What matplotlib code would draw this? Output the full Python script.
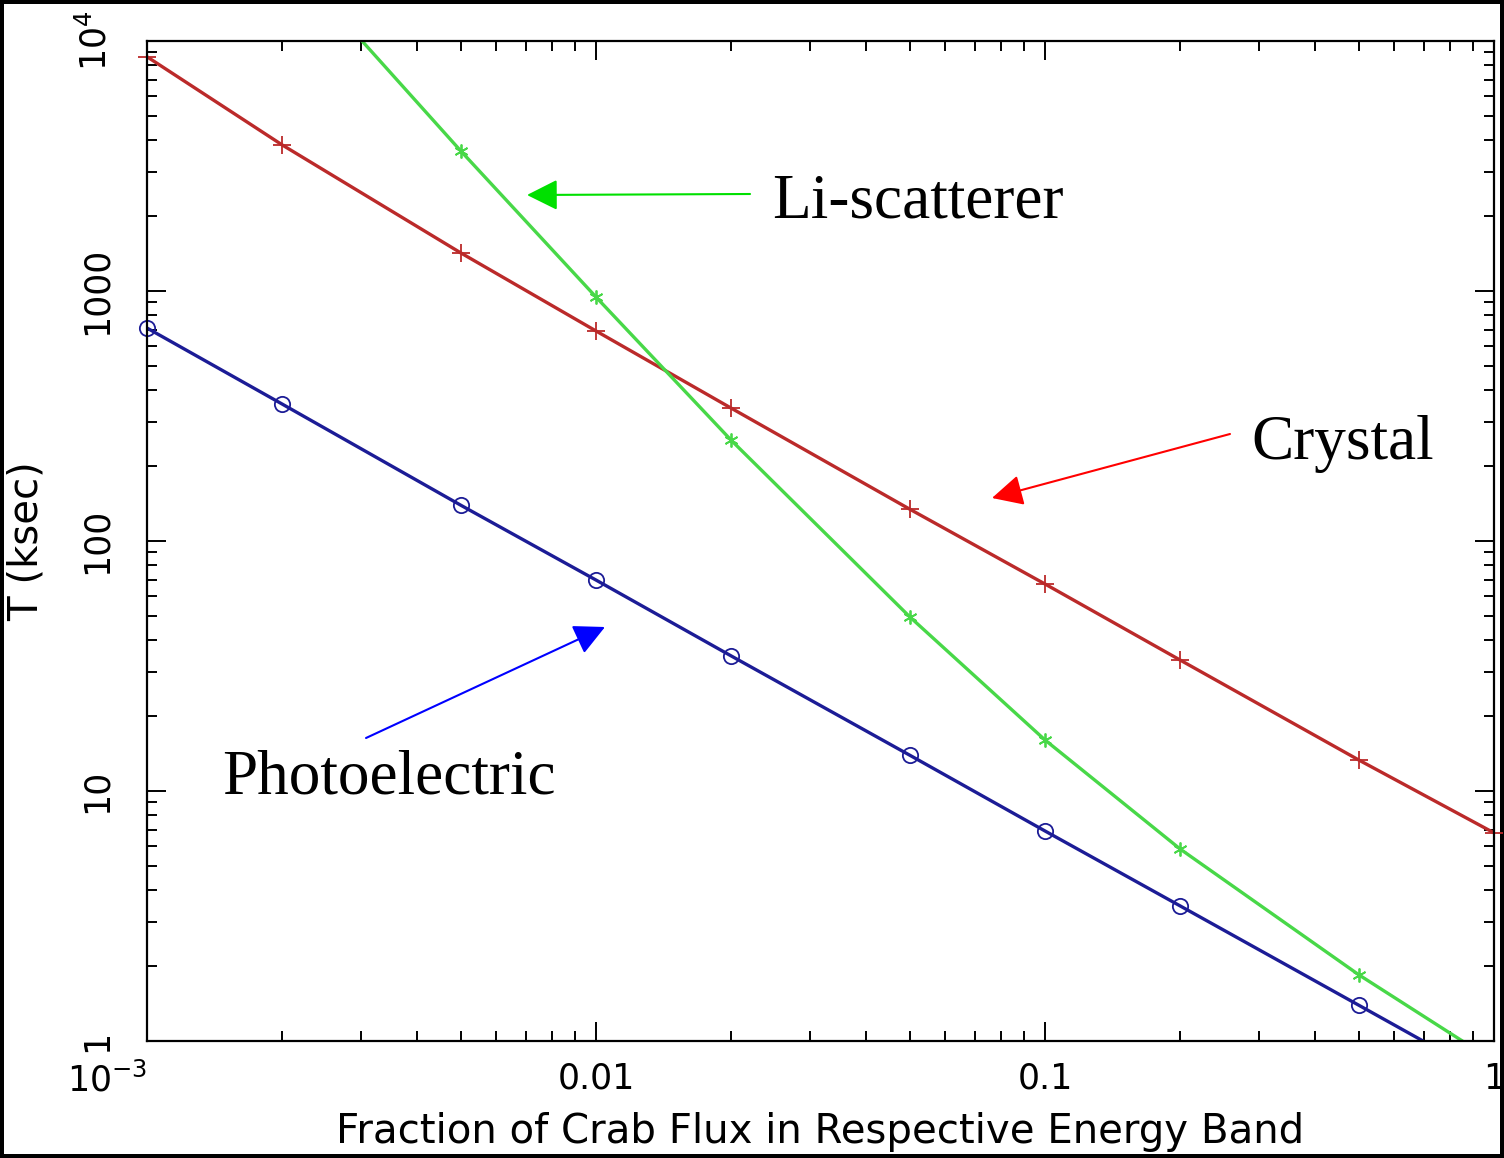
import numpy as np
import matplotlib
matplotlib.use('Agg')
import matplotlib.pyplot as plt
from matplotlib.ticker import LogLocator, FixedLocator, FixedFormatter, NullFormatter

# fraction of Crab flux, exposure time (ksec) per detector type
flux = [0.001, 0.002, 0.005, 0.01, 0.02, 0.05, 0.1, 0.2, 0.5, 1.0]
crystal = [8650, 3840, 1420, 692, 340, 134, 67.3, 33.4, 13.3, 6.8]
li_scatterer = [68000, 22700, 3630, 946, 253, 49.7, 16.0, 5.86, 1.84, 0.83]
photoelectric = [711, 353, 139, 69.8, 34.7, 13.9, 6.92, 3.47, 1.39, 0.695]

xticks = [1e-3, 1e-2, 1e-1, 1]
xticklabels = ['$10^{-3}$', '0.01', '0.1', '1']
yticks = [1, 10, 100, 1000, 1e4]
yticklabels = ['1', '10', '100', '1000', '$10^4$']

plt.rcParams['mathtext.fontset'] = 'dejavusans'

fig = plt.figure(figsize=(15.04, 11.58), dpi=100)
fig.patch.set_edgecolor('black')
fig.patch.set_linewidth(4.5)
ax = fig.add_axes([147/1504, 1 - 1041/1158, 1347/1504, 1000/1158])
ax.set_xscale('log')
ax.set_yscale('log')
ax.set_xlim(1e-3, 1)
ax.set_ylim(1, 1e4)

series = [
    (crystal, '#bb2a2a', '+', 13, 'none'),
    (li_scatterer, '#48d848', (6, 2, 0), 10, 'none'),
    (photoelectric, '#1c1c96', 'o', 11, 'none'),
]
fx = np.array(flux)
for vals, col, mk, ms, mfc in series:
    v = np.array(vals)
    ax.plot(fx, v, color=col, lw=2.4)
    keep = (v >= 1) & (v <= 1e4)
    ax.plot(fx[keep], v[keep], ls='none', marker=mk, ms=ms, mfc=mfc,
            mec=col, mew=1.3, clip_on=False)

ax.xaxis.set_major_locator(FixedLocator(xticks))
ax.xaxis.set_major_formatter(FixedFormatter(xticklabels))
ax.yaxis.set_major_locator(FixedLocator(yticks))
ax.yaxis.set_major_formatter(FixedFormatter(yticklabels))
ax.xaxis.set_minor_locator(LogLocator(base=10, subs=np.arange(2, 10)))
ax.yaxis.set_minor_locator(LogLocator(base=10, subs=np.arange(2, 10)))
ax.xaxis.set_minor_formatter(NullFormatter())
ax.yaxis.set_minor_formatter(NullFormatter())

ax.tick_params(which='both', direction='in', top=True, right=True, width=1.4, color='black')
ax.tick_params(which='major', length=14)
ax.tick_params(which='minor', length=7)
ax.tick_params(axis='x', labelsize=25, pad=15)
ax.tick_params(axis='y', labelsize=25, pad=24)
for lab in ax.get_yticklabels():
    lab.set_rotation(90)
    lab.set_va('center')
ax.get_xticklabels()[0].set_ha('right')

for sp in ax.spines.values():
    sp.set_linewidth(1.6)

ax.set_xlabel('Fraction of Crab Flux in Respective Energy Band', fontsize=29, labelpad=10)
ax.set_ylabel('T (ksec)', fontsize=29, labelpad=22)

serif = 'Liberation Serif'
ax.text(0.464, 0.824, 'Li-scatterer', transform=ax.transAxes, family=serif, fontsize=45.5, va='baseline')
ax.text(0.8202, 0.582, 'Crystal', transform=ax.transAxes, family=serif, fontsize=45.5, va='baseline')
ax.text(0.0557, 0.247, 'Photoelectric', transform=ax.transAxes, family=serif, fontsize=45.5, va='baseline')

arrows = [
    ((0.2821, 0.846), (0.4477, 0.847), '#00e000'),
    ((0.6273, 0.543), (0.8040, 0.607), '#ff0000'),
    ((0.3400, 0.414), (0.1626, 0.303), '#0000ff'),
]
for tip, tail, col in arrows:
    ax.annotate('', xy=tip, xytext=tail, xycoords='axes fraction', textcoords='axes fraction',
                arrowprops=dict(arrowstyle='-|>,head_length=19,head_width=9.5', mutation_scale=1,
                                color=col, lw=1.5, shrinkA=0, shrinkB=0))

fig.savefig('out.png', dpi=100, edgecolor=fig.get_edgecolor())
